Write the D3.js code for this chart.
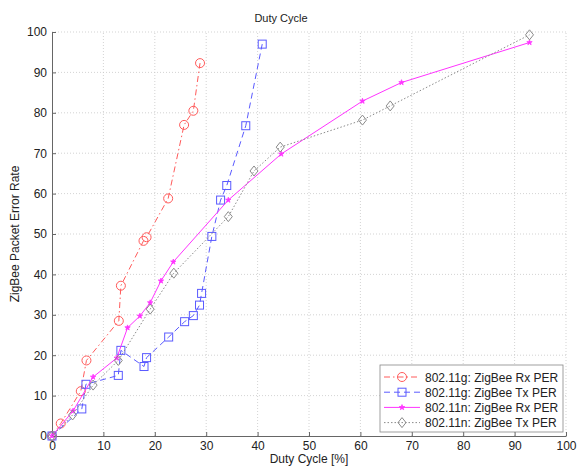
<!DOCTYPE html>
<html><head><meta charset="utf-8">
<script src="https://cdn.jsdelivr.net/npm/d3@7"></script>
<style>body{margin:0;background:#fff}svg{display:block;font-family:"Liberation Sans",Arial,sans-serif}</style>
</head><body><svg id="c" width="577" height="467"></svg>
<script>
const xTicks = [0,10,20,30,40,50,60,70,80,90,100];
const yTicks = [0,10,20,30,40,50,60,70,80,90,100];
const seriesNames = ["802.11g: ZigBee Rx PER","802.11g: ZigBee Tx PER","802.11n: ZigBee Rx PER","802.11n: ZigBee Tx PER"];
const gRxX = [0,1.7,5.6,6.7,13.0,13.4,17.8,18.4,22.6,25.7,27.5,28.8];
const gRxY = [0,3.1,11.1,18.7,28.5,37.2,48.3,49.2,58.8,77.0,80.5,92.3];
const gTxX = [0,5.8,6.6,12.9,13.4,17.9,18.4,22.7,25.8,27.5,28.7,29.1,31.1,32.8,34.0,37.7,40.9];
const gTxY = [0,6.7,12.8,15.0,21.2,17.2,19.4,24.5,28.3,29.8,32.4,35.3,49.4,58.4,62.0,76.8,97.0];
const nRxX = [0,4.1,8.0,12.6,14.7,17.1,19.1,21.2,23.6,34.3,44.6,60.4,68.0,92.9];
const nRxY = [0,6.2,14.6,19.3,26.8,29.7,33.0,38.4,43.1,58.4,69.8,82.9,87.5,97.4];
const nTxX = [0,4.0,8.0,12.9,19.1,23.7,34.3,39.3,44.4,60.4,65.8,92.9];
const nTxY = [0,5.2,12.6,18.7,31.4,40.3,54.3,65.6,71.5,78.2,81.7,99.3];

const svg = d3.select("#c");
const x = d3.scaleLinear().domain([0,100]).range([52,566]);
const y = d3.scaleLinear().domain([0,100]).range([436,32]);

// grid
const grid = svg.append("g").attr("stroke","#c8c8c8").attr("stroke-width",0.8).attr("stroke-dasharray","1,2");
xTicks.slice(1).forEach(t=>grid.append("line").attr("x1",x(t)).attr("x2",x(t)).attr("y1",y(0)).attr("y2",y(100)));
yTicks.slice(1).forEach(t=>grid.append("line").attr("x1",x(0)).attr("x2",x(100)).attr("y1",y(t)).attr("y2",y(t)));

// axes
const xa = svg.append("g").attr("transform",`translate(0,${y(0)})`)
  .call(d3.axisBottom(x).tickValues(xTicks).tickSizeInner(-4).tickSizeOuter(0).tickPadding(5));
const ya = svg.append("g").attr("transform",`translate(${x(0)},0)`)
  .call(d3.axisLeft(y).tickValues(yTicks).tickSizeInner(-4).tickSizeOuter(0).tickPadding(5));
[xa,ya].forEach(a=>{
  a.select(".domain").attr("stroke","#666");
  a.selectAll(".tick line").attr("stroke","#666");
  a.selectAll("text").attr("font-size",12).attr("fill","#222").attr("font-family","Liberation Sans, Arial, sans-serif");
});

svg.append("text").attr("x",281).attr("y",22).attr("text-anchor","middle").attr("font-size",11).attr("fill","#222").text("Duty Cycle");
svg.append("text").attr("x",309).attr("y",463).attr("text-anchor","middle").attr("font-size",12).attr("fill","#222").text("Duty Cycle [%]");
svg.append("text").attr("transform","translate(19,234) rotate(-90)").attr("text-anchor","middle").attr("font-size",12).attr("fill","#222").text("ZigBee Packet Error Rate");

const styles = [
  {xs:gRxX, ys:gRxY, color:"#ff5a5a", dash:"6,3,1.5,3", marker:"circle"},
  {xs:gTxX, ys:gTxY, color:"#5a5aff", dash:"6,4", marker:"square"},
  {xs:nRxX, ys:nRxY, color:"#ff33ff", dash:null, marker:"star"},
  {xs:nTxX, ys:nTxY, color:"#8a8a8a", dash:"1.5,2", marker:"diamond"}
];
function drawMarker(g, type, cx, cy, color){
  if(type==="circle") g.append("circle").attr("cx",cx).attr("cy",cy).attr("r",4.5).attr("fill","none").attr("stroke",color).attr("stroke-width",1);
  else if(type==="square") g.append("rect").attr("x",cx-4).attr("y",cy-4).attr("width",8).attr("height",8).attr("fill","none").attr("stroke",color).attr("stroke-width",1);
  else if(type==="diamond") g.append("path").attr("d",`M${cx},${cy-5}L${cx+4},${cy}L${cx},${cy+5}L${cx-4},${cy}Z`).attr("fill","none").attr("stroke",color).attr("stroke-width",1);
  else if(type==="star") g.append("path").attr("d",d3.symbol(d3.symbolStar,9)()).attr("transform",`translate(${cx},${cy})`).attr("fill",color).attr("stroke",color).attr("stroke-width",0.8);
}
const line = d3.line().x(d=>x(d[0])).y(d=>y(d[1]));
styles.forEach(s=>{
  const pts = s.xs.map((v,i)=>[v,s.ys[i]]);
  const g = svg.append("g");
  g.append("path").attr("d",line(pts)).attr("fill","none").attr("stroke",s.color).attr("stroke-width",1)
    .attr("stroke-dasharray",s.dash);
  pts.forEach(p=>drawMarker(g,s.marker,x(p[0]),y(p[1]),s.color));
});

// legend
const lg = svg.append("g");
lg.append("rect").attr("x",380).attr("y",365).attr("width",183).attr("height",67).attr("fill","#fff").attr("stroke","#888").attr("stroke-width",0.8);
styles.forEach((s,i)=>{
  const yy = 377 + i*15.2;
  lg.append("line").attr("x1",384).attr("x2",420).attr("y1",yy).attr("y2",yy).attr("stroke",s.color).attr("stroke-width",1).attr("stroke-dasharray",s.dash);
  drawMarker(lg,s.marker,402,yy,s.color);
  lg.append("text").attr("x",425).attr("y",yy+4.5).attr("font-size",12).attr("fill","#222").text(seriesNames[i]);
});
</script></body></html>
